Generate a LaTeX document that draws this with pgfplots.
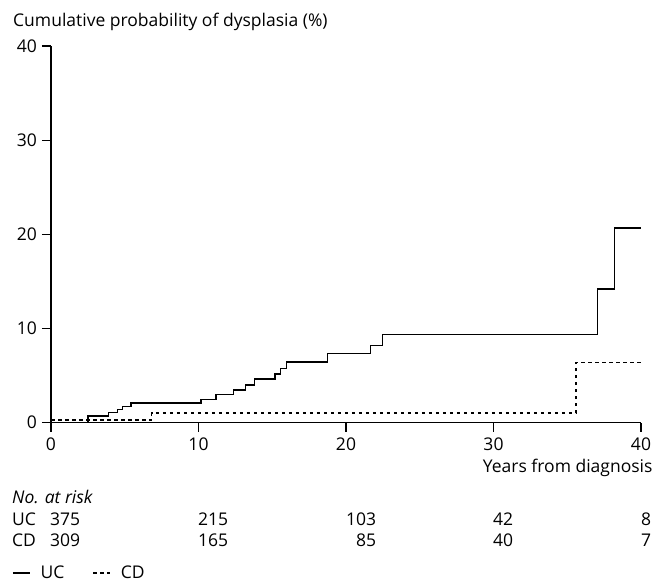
\documentclass[border=0pt]{standalone}
\usepackage{pgfplots}
\pgfplotsset{compat=1.18}
\usepackage{fontspec}
\setmainfont{Open Sans}

% Kaplan-Meier style cumulative probability (step functions)
\pgfplotstableread{
t     p
0     0
2.5   0.69
3.9   1.08
4.5   1.40
4.86  1.72
5.42  2.07
10.17 2.47
11.19 3.00
12.38 3.45
13.2  3.99
13.78 4.62
15.18 5.15
15.57 5.76
15.95 6.43
18.73 7.35
21.67 8.20
22.46 9.33
37.07 14.20
38.2  20.67
40    20.67
}\ucdata

\pgfplotstableread{
t     p
0     0.25
6.83  1.00
35.6  6.36
40    6.36
}\cddata

\newcommand{\lbl}{\fontsize{17.5}{21}\selectfont}

\begin{document}
\lbl
\begin{tikzpicture}[x=1pt,y=1pt]
\useasboundingbox (0,0) rectangle (656,-585);
\begin{axis}[
  at={(51pt,-422.5pt)}, anchor=south west,
  scale only axis, width=590pt, height=376.5pt,
  xmin=0, xmax=40, ymin=0, ymax=40,
  axis lines=left,
  axis line style={-, line width=1.2pt},
  tick align=outside,
  major tick length=9pt,
  tick style={line width=1.2pt, black},
  xtick={0,10,...,40}, ytick={0,10,...,40},
  /pgf/number format/assume math mode=true,
  tick label style={font=\lbl},
  yticklabel style={xshift=1pt},
  legend style={at={(axis description cs:-0.0661,-0.40)}, anchor=west,
    draw=none, fill=none, inner sep=0pt, legend columns=-1,
    font=\lbl,
    /tikz/every odd column/.style={column sep=8pt},
    /tikz/every even column/.style={column sep=26pt}},
  legend image code/.code={\draw[#1] (0pt,0pt) -- (17pt,0pt);},
]
\addplot[const plot, black, line width=1.4pt] table[x=t,y=p] {\ucdata};
\addlegendentry{UC}
\addplot[const plot, black, line width=1.4pt, dash pattern=on 3.5pt off 3.5pt] table[x=t,y=p] {\cddata};
\addlegendentry{CD}
\end{axis}

\node[anchor=base west, inner sep=0] at (13,-26.7) {Cumulative probability of dysplasia (\%)};
\node[anchor=base east, inner sep=0] at (652.7,-472) {Years from diagnosis};
\node[anchor=base west, inner sep=0] at (12,-503) {\itshape No. at risk};

% numbers at risk, one column per tick
\node[anchor=base west, inner sep=0] at (12,-525) {UC};
\node[anchor=base west, inner sep=0] at (12,-546) {CD};
\foreach \xx/\u/\c in {50/375/309, 198/215/165, 346/103/\phantom{1}85, 493/42/40, 641/8/7}{
  \node[anchor=base west, inner sep=0] at (\xx,-525) {\u};
  \node[anchor=base west, inner sep=0] at (\xx,-546) {\c};
}
\end{tikzpicture}
\end{document}
